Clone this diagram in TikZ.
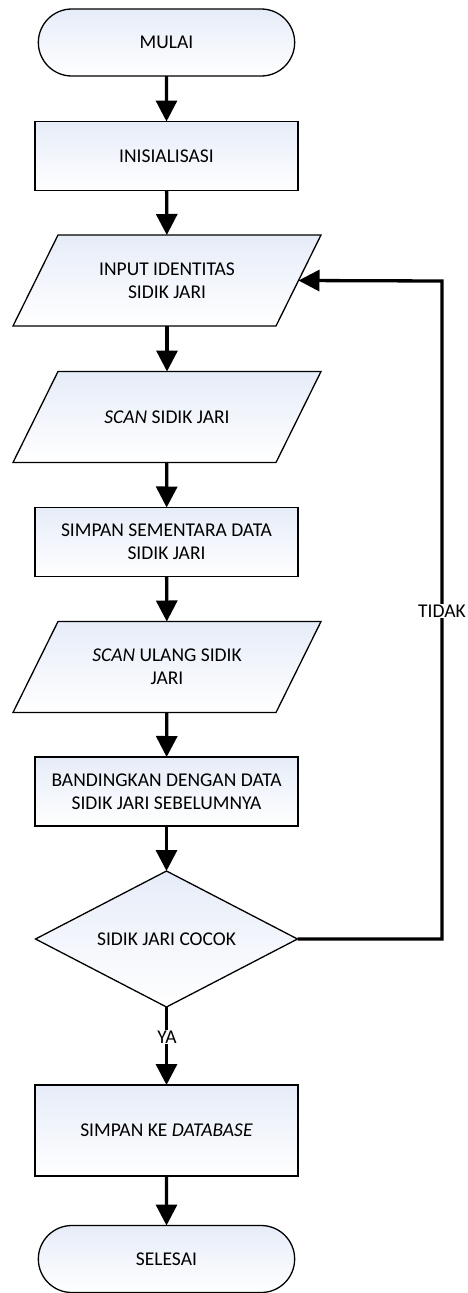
\documentclass[tikz,border=0pt]{standalone}
\usepackage{fontspec}
\setmainfont{Carlito}
\usetikzlibrary{shapes.geometric,shapes.misc,arrows.meta}
\definecolor{boxtop}{RGB}{230,236,248}
\tikzset{
    every node/.style={outer sep=0pt, align=center,
    	font=\fontsize{19.5}{23}\selectfont}
}
\tikzset{
    box/.style={draw, line width=1.3pt, top color=boxtop, bottom color=white,
    	minimum width=263pt},
    term/.style={box, rounded rectangle, minimum height=67pt},
    proc/.style={box, rectangle, minimum height=69pt},
    io/.style={rectangle, minimum width=263pt, minimum height=91pt},
    decision/.style={box, diamond, aspect=1.93, minimum width=262pt,
    	minimum height=136pt},
    lbl/.style={fill=white, inner sep=1pt},
    flow/.style={line width=3.3pt, -{Triangle[length=21pt,width=21pt]}}
}
\tikzset{
    every edge/.append style={flow}
}
\pgfdeclarelayer{background}
\pgfsetlayers{background,main}

\begin{document}
\begin{tikzpicture}[x=1pt,y=-1pt]
	\useasboundingbox (0,0) rectangle (467,1293);
	\node (1) [term] at (166.5,42.5) {MULAI};
	\node (2) [proc] at (166.5,156) {INISIALISASI};
	\node (3) [io] at (167,280.5) {INPUT IDENTITAS\\SIDIK JARI};
	\node (4) [io] at (167,417) {\textit{SCAN} SIDIK JARI};
	\node (5) [proc] at (166.5,542) {SIMPAN SEMENTARA DATA\\SIDIK JARI};
	\node (6) [io] at (167,667) {\textit{SCAN} ULANG SIDIK\\JARI};
	\node (7) [proc] at (166.5,791.5) {BANDINGKAN DENGAN DATA\\SIDIK JARI SEBELUMNYA};
	\node (8) [decision] at (166.5,939) {SIDIK JARI COCOK};
	\node (9) [proc, minimum height=91pt] at (166.5,1130.5) {SIMPAN KE \textit{DATABASE}};
	\node (10) [term] at (166.5,1259) {SELESAI};
	\coordinate (c) at (442,281);

	% parallelogram outlines behind the input nodes
	\begin{pgfonlayer}{background}
	\foreach \n in {3,4,6}
		\draw [box] ([xshift=22.5pt]\n.north west) -- ([xshift=22.5pt]\n.north east)
			-- ([xshift=-22.5pt]\n.south east) -- ([xshift=-22.5pt]\n.south west) -- cycle;
	\end{pgfonlayer}

	\draw (1) edge (2); \draw (2) edge (3); \draw (3) edge (4);
	\draw (4) edge (5); \draw (5) edge (6); \draw (6) edge (7);
	\draw (7) edge (8); \draw (8) edge (9); \draw (9) edge (10);
	\draw [flow] (8.east) -| (c) -- (3.east);
	\node (tidak) [lbl] at (442,611) {TIDAK};
	\node (ya) [lbl] at (167,1037) {YA};
\end{tikzpicture}
\end{document}
